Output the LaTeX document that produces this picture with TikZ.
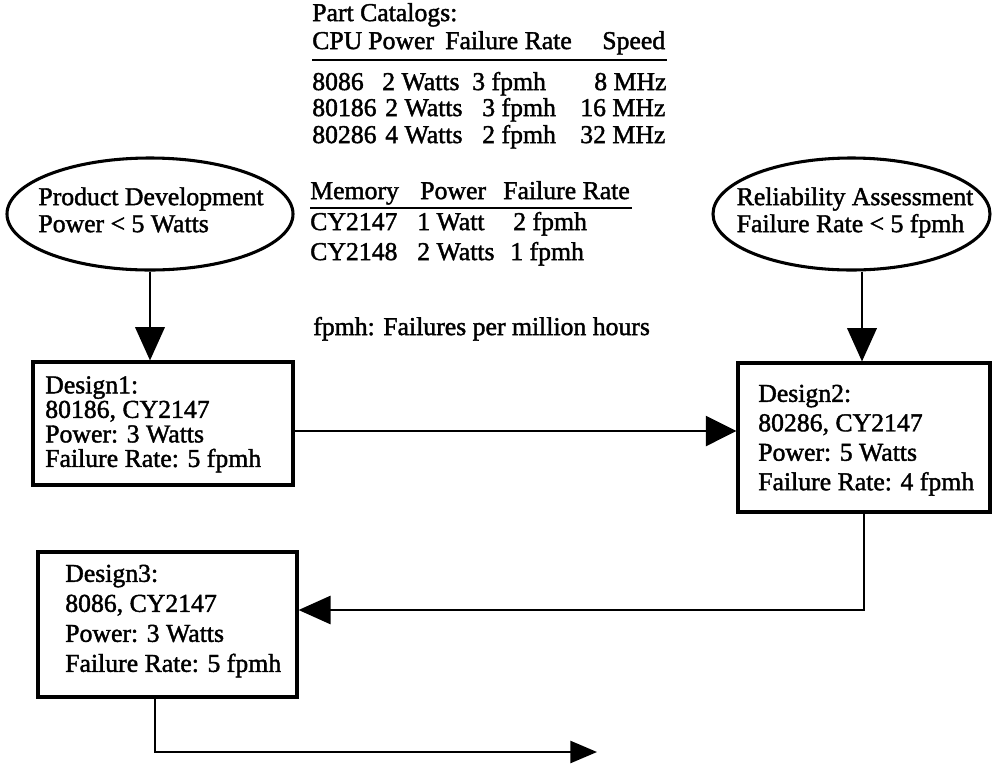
\documentclass[tikz,border=0pt]{standalone}
\usepackage{fontspec}
\setmainfont{Liberation Serif}[FakeBold=1.6]
\usetikzlibrary{arrows.meta,shapes.geometric,calc}
\begin{document}
\begin{tikzpicture}[x=0.75pt,y=-0.75pt,
  every node/.style={font=\fontsize{19.3}{20.3}\selectfont, inner sep=0pt, text=black},
  cell/.style={anchor=mid west},
  boxn/.style={draw, rectangle, line width=2.3pt},
  ell/.style={draw, ellipse, line width=2.3pt},
  btext/.style={anchor=north west, align=left},
  conn/.style={line width=2pt},
  tipV/.style={-{Triangle[length=25pt,width=22pt]}},
  tipH/.style={-{Triangle[length=23pt,width=22.5pt]}},
  tipB/.style={-{Triangle[length=24pt,width=21pt]}},
  tipE/.style={-{Triangle[length=20pt,width=16.5pt]}},
  uline/.style={line width=1.3pt}]
\path[use as bounding box] (0,0) rectangle (992,765);

% ---- part catalogs ----
\node[cell] (title) at (312,18) {Part Catalogs:};
\node[cell] (hcpu) at (312,46) {CPU};
\node[cell] (hpow) at (368,46) {Power};
\node[cell] (hfr)  at (445,46) {Failure Rate};
\node[cell] (hspd) at (602,46) {Speed};
\draw[uline] (312,60) -- (667,60);

\node[cell] (r1a) at (312,87) {8086};
\node[cell] (r1b) at (382,87) {2 Watts};
\node[cell] (r1c) at (472,87) {3 fpmh};
\node[cell] (r1d) at (594,87) {8 MHz};
\node[cell] (r2a) at (312,113) {80186};
\node[cell] (r2b) at (385,113) {2 Watts};
\node[cell] (r2c) at (482,113) {3 fpmh};
\node[cell] (r2d) at (580,113) {16 MHz};
\node[cell] (r3a) at (312,140) {80286};
\node[cell] (r3b) at (385,140) {4 Watts};
\node[cell] (r3c) at (482,140) {2 fpmh};
\node[cell] (r3d) at (580,140) {32 MHz};

\node[cell] (hmem)  at (310,196) {Memory};
\node[cell] (hmpow) at (420,196) {Power};
\node[cell] (hmfr)  at (503,196) {Failure Rate};
\draw[uline] (310,208) -- (632,208);
\node[cell] (m1a) at (310,227) {CY2147};
\node[cell] (m1b) at (417,227) {1 Watt};
\node[cell] (m1c) at (513,227) {2 fpmh};
\node[cell] (m2a) at (310,257) {CY2148};
\node[cell] (m2b) at (417,257) {2 Watts};
\node[cell] (m2c) at (510,257) {1 fpmh};

\node[cell] (note) at (313,332) {fpmh: Failures per million hours};

% ---- ellipses ----
\node[ell, minimum width=214.5pt, minimum height=84pt] (pd) at (150,214) {};
\node[anchor=north, align=left, font=\fontsize{19.3}{20.25}\selectfont] (pdt) at (151,187)
  {Product Development\\Power < 5 Watts};
\node[ell, minimum width=207.75pt, minimum height=84pt] (rel) at (851.5,214) {};
\node[anchor=north, align=left, font=\fontsize{19.3}{20.25}\selectfont] (relt) at (855,187)
  {Reliability Assessment\\Failure Rate < 5 fpmh};

% ---- design boxes ----
\node[boxn, minimum width=195pt, minimum height=92.25pt] (b1) at (163,423.5) {};
\node[btext, font=\fontsize{19.3}{18.4}\selectfont] (t1) at (45,376)
  {Design1:\\80186, CY2147\\Power: 3 Watts\\Failure Rate: 5 fpmh};
\node[boxn, minimum width=189pt, minimum height=111.75pt] (b2) at (864,437.5) {};
\node[btext, font=\fontsize{19.3}{22.1}\selectfont] (t2) at (758,384.5)
  {Design2:\\80286, CY2147\\Power: 5 Watts\\Failure Rate: 4 fpmh};
\node[boxn, minimum width=194.25pt, minimum height=108.75pt] (b3) at (167.5,624.5) {};
\node[btext, font=\fontsize{19.3}{22.5}\selectfont] (t3) at (65,564.5)
  {Design3:\\8086, CY2147\\Power: 3 Watts\\Failure Rate: 5 fpmh};

% ---- connectors ----
\coordinate (r2) at ($(rel.south)+(10.5,0)$);
\coordinate (ya) at (0,431);
\coordinate (yb) at (0,610);
\coordinate (xc) at (155,0);
\coordinate (out) at (597,752);

\draw[conn,tipV] (pd.south) -- (pd.south |- b1.north);
\draw[conn,tipV] (r2) -- (r2 |- b2.north);
\draw[conn,tipH] (b1.east |- ya) -- (b2.west |- ya);
\draw[conn,tipB] (b2.south) |- (b3.east |- yb);
\draw[conn,tipE] (b3.south -| xc) |- (out);
\end{tikzpicture}
\end{document}
